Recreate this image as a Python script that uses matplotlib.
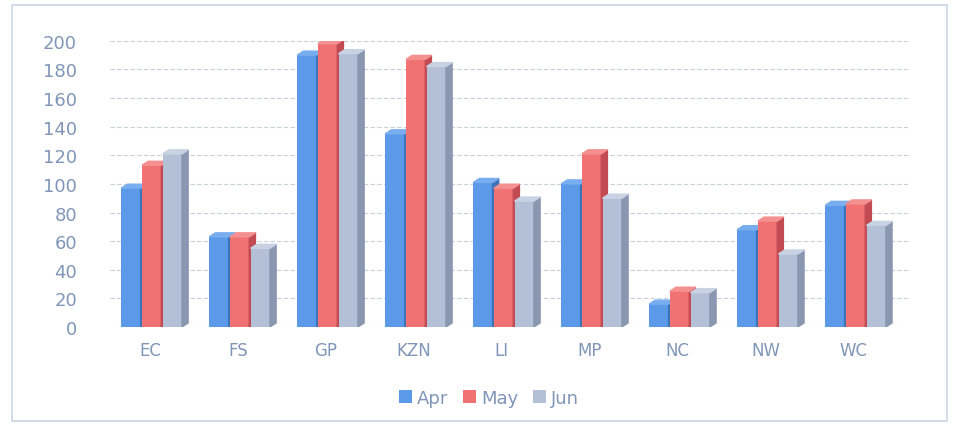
import numpy as np
import matplotlib.pyplot as plt
from matplotlib.patches import Polygon, Rectangle

# data
regions = ["EC", "FS", "GP", "KZN", "LI", "MP", "NC", "NW", "WC"]
months = ["Apr", "May", "Jun"]
apr = [97, 63, 190, 135, 101, 100, 16, 68, 85]
may = [113, 63, 198, 187, 97, 121, 25, 74, 86]
jun = [121, 55, 191, 182, 88, 90, 24, 51, 71]

front = ["#5a9ae8", "#f07272", "#b4c0d6"]
side = ["#3f72b8", "#c24b52", "#8a97b0"]
topc = ["#78aef0", "#f49090", "#c8d2e2"]
lbl = "#8096b8"

fig = plt.figure(figsize=(9.59, 4.31), dpi=100)
fig.patches.append(Rectangle((0.013, 0.022), 0.975, 0.965, transform=fig.transFigure,
                             fill=False, edgecolor="#c9d6e6", lw=1.2))
ax = fig.add_axes([0.115, 0.239, 0.834, 0.664])

x = np.arange(len(regions))
w = 0.22
dx, dy = 0.07, 2.8  # fake depth
for i, vals in enumerate([apr, may, jun]):
    xs = x + (i - 1) * 0.235 - 0.03
    ax.bar(xs, vals, w, color=front[i], zorder=3 + i * 0.1, label=months[i])
    for xi, v in zip(xs, vals):
        r = xi + w / 2
        ax.add_patch(Polygon([(r, 0), (r + dx, dy), (r + dx, v + dy), (r, v)],
                             closed=True, color=side[i], zorder=3 + i * 0.1))
        ax.add_patch(Polygon([(xi - w / 2, v), (xi - w / 2 + dx, v + dy), (r + dx, v + dy), (r, v)],
                             closed=True, color=topc[i], zorder=3 + i * 0.1))

ax.set_xlim(-0.5, 8.59)
ax.set_ylim(0, 200)
ax.set_yticks(range(0, 201, 20))
ax.set_xticks(x - 0.05)
ax.set_xticklabels(regions)
ax.tick_params(length=0, labelsize=13, colors=lbl)
ax.tick_params(axis="y", pad=24)
ax.tick_params(axis="x", pad=10, labelsize=12)
ax.grid(axis="y", color="#c8d0dc", lw=0.8, ls=(0, (4, 2)), zorder=0)
for s in ax.spines.values():
    s.set_visible(False)

fig.legend(loc="center", bbox_to_anchor=(0.51, 0.074), ncol=3, frameon=False,
           fontsize=13, handlelength=0.7, handleheight=0.7, columnspacing=0.8,
           handletextpad=0.3, labelcolor=lbl)

fig.savefig("out.png", dpi=100)
